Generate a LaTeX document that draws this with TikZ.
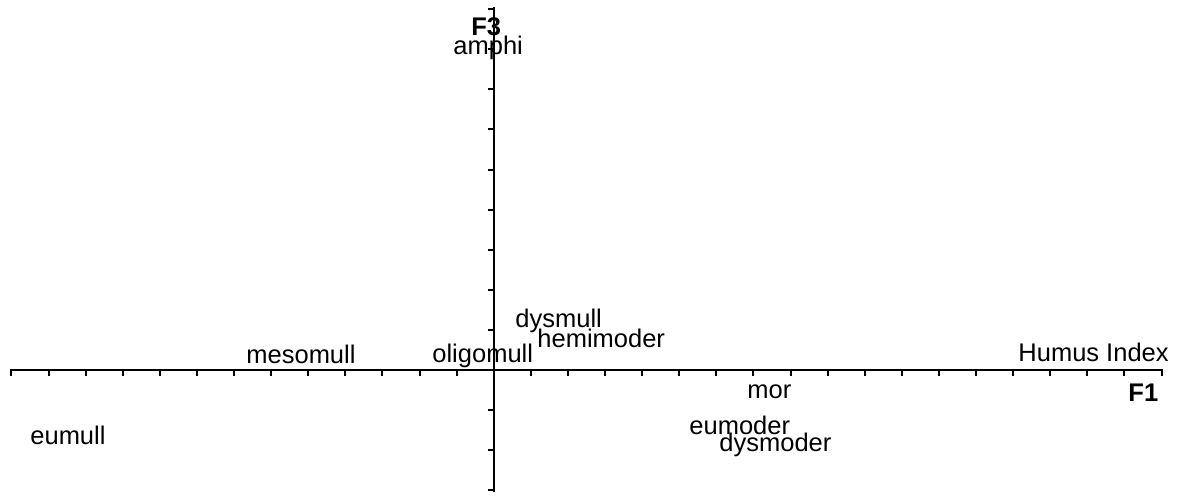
\documentclass[tikz,border=0pt]{standalone}
\usepackage{fontspec}
\setmainfont{Liberation Sans}
\begin{document}
\begin{tikzpicture}[x=0.5pt,y=-0.5pt,
  lbl/.style={inner sep=0pt,anchor=base west,font=\fontsize{12.75}{15}\selectfont},
  axlbl/.style={lbl,font=\fontsize{12.75}{15}\selectfont\bfseries},
  axis/.style={line width=1.2pt,line cap=rect},
  tick/.style={line width=1pt}]
\useasboundingbox (0,0) rectangle (1181,495);
% horizontal axis
\coordinate (hl) at (11.4,370);
\coordinate (hr) at (1161.5,370);
\draw[axis] (hl) -- (hr);
\foreach \i in {-13,...,18} \draw[tick] (493.7+37.1*\i,370) -- ++(0,6);
% vertical axis
\coordinate (vt) at (493.7,8.2);
\coordinate (vb) at (493.7,490.3);
\draw[axis] (vt) -- (vb);
\foreach \j in {-9,...,3} \draw[tick] (493.7,370+40.1*\j) -- ++(-6,0);
% labels
\node[axlbl] (F3) at (471,35) {F3};
\node[lbl] (amphi) at (453,54) {amphi};
\node[lbl] (dysmull) at (515,327) {dysmull};
\node[lbl] (hemimoder) at (537,347) {hemimoder};
\node[lbl] (mesomull) at (246,363) {mesomull};
\node[lbl] (oligomull) at (432,362) {oligomull};
\node[lbl] (humus) at (1018,361) {Humus Index};
\node[lbl] (mor) at (747,398) {mor};
\node[axlbl] (F1) at (1128,401) {F1};
\node[lbl] (eumoder) at (689,434) {eumoder};
\node[lbl] (dysmoder) at (719,451) {dysmoder};
\node[lbl] (eumull) at (30,444) {eumull};
\end{tikzpicture}
\end{document}
